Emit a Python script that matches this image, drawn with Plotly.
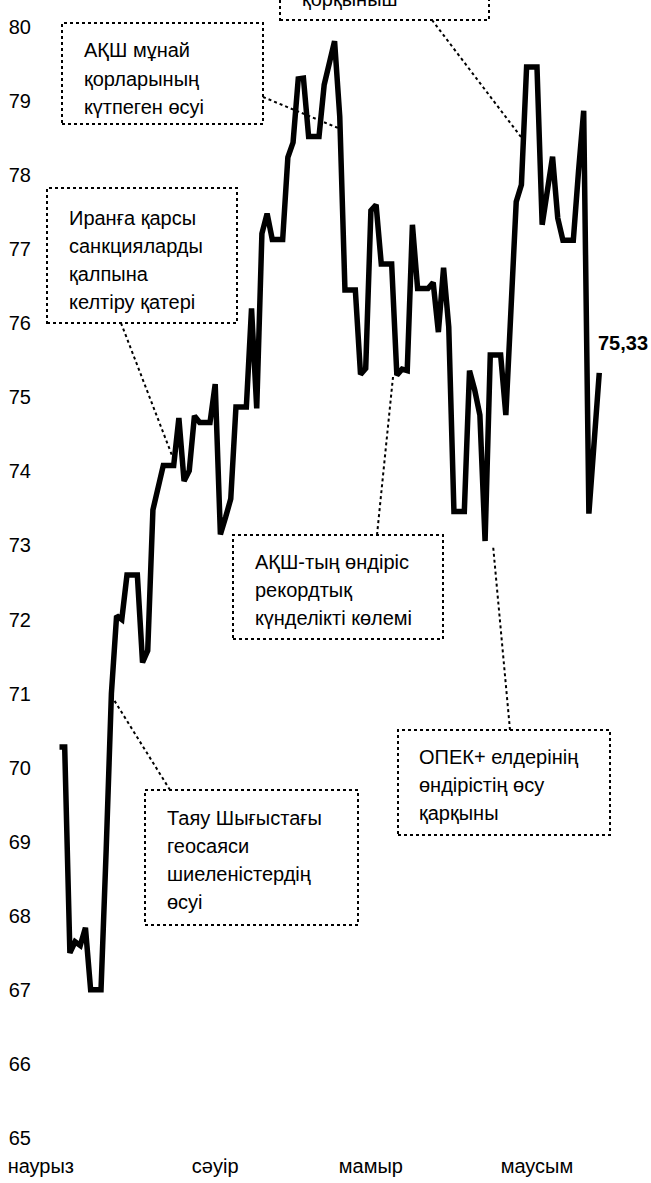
import plotly.graph_objects as go

# ---- data (daily, 31 Mar - 13 Jul; weekends carry the previous value) ----
brent = [
    70.28, 70.28, 67.50, 67.65, 67.60, 67.84, 67.00, 67.00, 67.00, 68.90,
    71.00, 72.05, 72.00, 72.60, 72.60, 72.60, 71.42, 71.58, 73.48, 73.80,
    74.08, 74.08, 74.08, 74.72, 73.87, 74.01, 74.75, 74.66, 74.66, 74.66,
    75.18, 73.15, 73.38, 73.63, 74.87, 74.87, 74.87, 76.20, 74.85, 77.21,
    77.48, 77.13, 77.13, 77.13, 78.24, 78.44, 79.30, 79.31, 78.52, 78.52,
    78.52, 79.22, 79.55, 79.81, 78.79, 76.45, 76.45, 76.45, 75.31, 75.39,
    77.52, 77.60, 76.80, 76.80, 76.80, 75.30, 75.38, 75.36, 77.33, 76.47,
    76.47, 76.47, 76.55, 75.88, 76.75, 75.95, 73.46, 73.46, 73.46, 75.36,
    75.10, 74.76, 73.06, 75.57, 75.57, 75.57, 74.76, 76.30, 77.64, 77.87,
    79.46, 79.46, 79.46, 77.33, 77.78, 78.25, 77.42, 77.12, 77.12, 77.12,
    78.05, 78.87, 73.43, 74.45, 75.33,
]
day_index = list(range(len(brent)))

month_labels = ["наурыз", "сәуір", "мамыр", "маусым"]
month_tick_days = [-3.6, 30, 60, 92]

y_ticks = list(range(65, 81))

callouts = [
    ["АҚШ мұнай", "қорларының", "күтпеген өсуі"],
    ["Иранға қарсы", "санкцияларды", "қалпына", "келтіру қатері"],
    ["АҚШ-тың өндіріс", "рекордтық", "күнделікті көлемі"],
    ["ОПЕК+ елдерінің", "өндірістің өсу", "қарқыны"],
    ["Таяу Шығыстағы", "геосаяси", "шиеленістердің", "өсуі"],
    ["қорқыныш"],
]

# ---- layout geometry (pixels) ----
W, H = 651, 1183
L, R, T, B = 40, 640, 27, 1138
FONT = "Liberation Sans, Arial, sans-serif"
FS = 20
PX_PER_DAY = 5.19
FIRST_X = 59.5


def fx(p):
    return (p - L) / (R - L)


def fy(p):
    return (B - p) / (B - T)


fig = go.Figure()
fig.add_trace(go.Scatter(
    x=day_index, y=brent, mode="lines",
    line=dict(color="#000000", width=5.5),
    hoverinfo="skip", showlegend=False,
))

# boxes: (x0, y0, x1, y1, text_left, first_line_center, line_step, pointer)
box_geo = [
    (62, 23, 263, 124, 82, 50, 28.5, ((263, 97), (338, 128))),
    (47, 188, 237, 323, 67, 218, 28, ((121, 323), (173, 458))),
    (233, 535, 443, 639, 253, 562, 28, ((377, 535), (393, 377))),
    (398, 730, 610, 835, 417, 757, 28, ((510, 730), (493, 545))),
    (145, 790, 358, 925, 165, 818, 28, ((170, 790), (114, 700))),
    (280, -120, 489, 20, 300, -1, 28, ((432, 20), (521, 137))),
]

shapes = []
annotations = []
for lines, (x0, y0, x1, y1, tl, c0, step, ptr) in zip(callouts, box_geo):
    shapes.append(dict(type="rect", xref="paper", yref="paper",
                       x0=fx(x0), x1=fx(x1), y0=fy(y1), y1=fy(y0),
                       line=dict(color="#000000", width=2, dash="dot"),
                       fillcolor="rgba(255,255,255,1)", layer="above"))
    (ax, ay), (bx, by) = ptr
    shapes.append(dict(type="line", xref="paper", yref="paper",
                       x0=fx(ax), y0=fy(ay), x1=fx(bx), y1=fy(by),
                       line=dict(color="#000000", width=2, dash="dot"),
                       layer="above"))
    for k, t in enumerate(lines):
        annotations.append(dict(
            xref="paper", yref="paper", x=fx(tl), y=fy(c0 + k * step),
            xanchor="left", yanchor="middle", text=t, showarrow=False,
            font=dict(family=FONT, size=FS, color="#000000")))

# last value label
annotations.append(dict(
    xref="x", yref="y", x=day_index[-1], y=brent[-1],
    text="<b>" + f"{brent[-1]:.2f}".replace(".", ",") + "</b>",
    showarrow=False, xanchor="left", yanchor="middle",
    xshift=-3, yshift=30,
    font=dict(family=FONT, size=FS, color="#000000")))

x_lo = -(FIRST_X - L) / PX_PER_DAY
x_hi = x_lo + (R - L) / PX_PER_DAY

fig.update_layout(
    width=W, height=H,
    margin=dict(l=L, r=W - R, t=T, b=H - B),
    paper_bgcolor="white", plot_bgcolor="white",
    font=dict(family=FONT, size=FS, color="#000000"),
    shapes=shapes, annotations=annotations,
    xaxis=dict(range=[x_lo, x_hi], tickmode="array",
               tickvals=month_tick_days, ticktext=month_labels,
               showgrid=False, zeroline=False, showline=False,
               automargin=False,
               ticks="outside", ticklen=10, tickcolor="rgba(0,0,0,0)",
               tickfont=dict(family=FONT, size=FS)),
    yaxis=dict(range=[65, 80], tickmode="array", tickvals=y_ticks,
               ticktext=[str(v) for v in y_ticks],
               showgrid=False, zeroline=False, showline=False,
               automargin=False,
               ticks="outside", ticklen=4, tickcolor="rgba(0,0,0,0)",
               tickfont=dict(family=FONT, size=FS)),
)

fig.write_html("out.html",
               config={"displayModeBar": False},
               post_script="document.body.style.margin='0px';"
                           "document.body.style.overflow='hidden';")
